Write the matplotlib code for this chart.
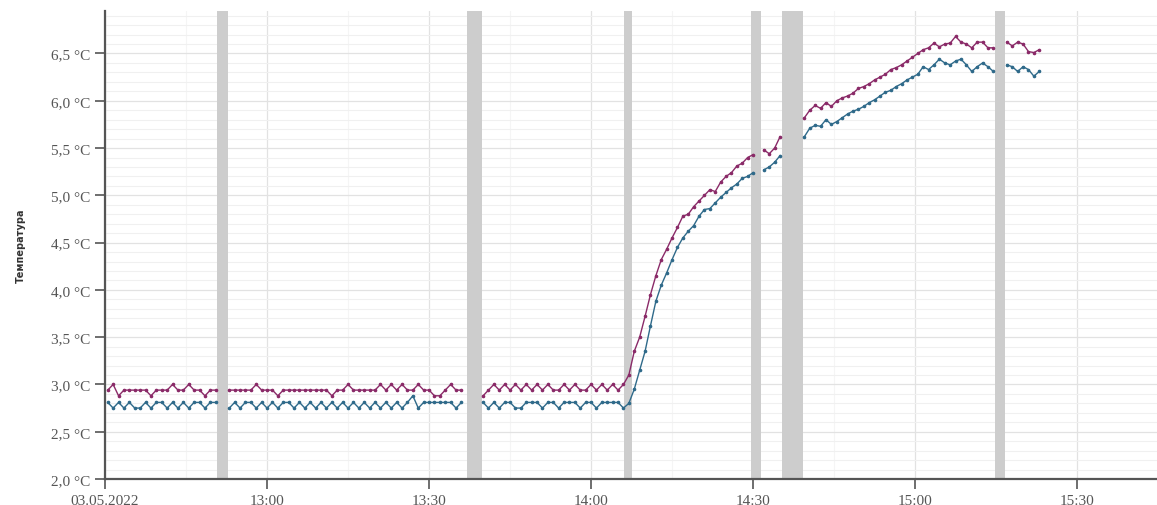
import matplotlib
matplotlib.use("Agg")
import matplotlib.pyplot as plt
import numpy as np
import pandas as pd

# sensor log, 03.05.2022, one reading per minute; segments separated by gaps
# start = minutes after 12:30
seg_start = [0.5, 23.0, 70.0, 122.0, 129.5, 167.0]

upper = [
    [2.94, 3.0, 2.88, 2.94, 2.94, 2.94, 2.94, 2.94, 2.88, 2.94, 2.94,
     2.94, 3.0, 2.94, 2.94, 3.0, 2.94, 2.94, 2.88, 2.94, 2.94],
    [2.94, 2.94, 2.94, 2.94, 2.94, 3.0, 2.94, 2.94, 2.94, 2.88, 2.94,
     2.94, 2.94, 2.94, 2.94, 2.94, 2.94, 2.94, 2.94, 2.88, 2.94, 2.94,
     3.0, 2.94, 2.94, 2.94, 2.94, 2.94, 3.0, 2.94, 3.0, 2.94, 3.0,
     2.94, 2.94, 3.0, 2.94, 2.94, 2.88, 2.88, 2.94, 3.0, 2.94, 2.94],
    [2.88, 2.94, 3.0, 2.94, 3.0, 2.94, 3.0, 2.94, 3.0, 2.94, 3.0,
     2.94, 3.0, 2.94, 2.94, 3.0, 2.94, 3.0, 2.94, 2.94, 3.0, 2.94,
     3.0, 2.94, 3.0, 2.94, 3.0,
     3.10, 3.35, 3.50, 3.72, 3.95, 4.15, 4.32, 4.43, 4.55, 4.66, 4.78,
     4.80, 4.88, 4.94, 5.00, 5.06, 5.04, 5.14, 5.20, 5.24, 5.31, 5.34,
     5.40, 5.43],
    [5.48, 5.44, 5.50, 5.62],
    [5.82, 5.90, 5.95, 5.92, 5.98, 5.94, 6.00, 6.03, 6.05, 6.08, 6.13,
     6.15, 6.18, 6.22, 6.25, 6.28, 6.33, 6.35, 6.38, 6.42, 6.46, 6.50,
     6.54, 6.56, 6.61, 6.57, 6.60, 6.61, 6.68, 6.62, 6.60, 6.56, 6.62,
     6.62, 6.56, 6.56],
    [6.62, 6.58, 6.62, 6.60, 6.52, 6.51, 6.54],
]

lower = [
    [2.81, 2.75, 2.81, 2.75, 2.81, 2.75, 2.75, 2.81, 2.75, 2.81, 2.81,
     2.75, 2.81, 2.75, 2.81, 2.75, 2.81, 2.81, 2.75, 2.81, 2.81],
    [2.75, 2.81, 2.75, 2.81, 2.81, 2.75, 2.81, 2.75, 2.81, 2.75, 2.81,
     2.81, 2.75, 2.81, 2.75, 2.81, 2.75, 2.81, 2.75, 2.81, 2.75, 2.81,
     2.75, 2.81, 2.75, 2.81, 2.75, 2.81, 2.75, 2.81, 2.75, 2.81, 2.75,
     2.81, 2.88, 2.75, 2.81, 2.81, 2.81, 2.81, 2.81, 2.81, 2.75, 2.81],
    [2.81, 2.75, 2.81, 2.75, 2.81, 2.81, 2.75, 2.75, 2.81, 2.81, 2.81,
     2.75, 2.81, 2.81, 2.75, 2.81, 2.81, 2.81, 2.75, 2.81, 2.81, 2.75,
     2.81, 2.81, 2.81, 2.81, 2.75,
     2.80, 2.95, 3.15, 3.35, 3.62, 3.88, 4.05, 4.18, 4.32, 4.45, 4.55,
     4.62, 4.68, 4.78, 4.85, 4.86, 4.92, 4.98, 5.03, 5.08, 5.12, 5.18,
     5.20, 5.24],
    [5.27, 5.30, 5.35, 5.42],
    [5.62, 5.71, 5.74, 5.73, 5.80, 5.75, 5.78, 5.82, 5.86, 5.89, 5.91,
     5.94, 5.98, 6.01, 6.05, 6.09, 6.11, 6.15, 6.18, 6.22, 6.25, 6.28,
     6.36, 6.33, 6.38, 6.44, 6.40, 6.38, 6.42, 6.44, 6.38, 6.31, 6.36,
     6.40, 6.36, 6.31],
    [6.38, 6.36, 6.31, 6.36, 6.33, 6.26, 6.31],
]

# gray bands (minutes after 12:30)
band_from = [20.7, 67.0, 96.1, 119.6, 125.4, 164.8]
band_to = [22.8, 69.8, 97.6, 121.5, 129.3, 166.7]

tick_labels = ["03.05.2022", "13:00", "13:30", "14:00", "14:30", "15:00", "15:30"]
y_ticks = [2.0, 2.5, 3.0, 3.5, 4.0, 4.5, 5.0, 5.5, 6.0, 6.5]

base = pd.Timestamp("2022-05-03 12:30")


def t(minutes):
    return base + pd.to_timedelta(minutes, unit="min")


def build(series):
    xs, ys = [], []
    for start, vals in zip(seg_start, series):
        mins = start + np.arange(len(vals))
        xs.extend(list(t(mins)))
        ys.extend(vals)
        xs.append(t(mins[-1] + 0.5))
        ys.append(np.nan)
    return xs, ys


fig = plt.figure(figsize=(11.57, 5.06), dpi=100)
ax = fig.add_axes([0.0908, 0.0514, 0.9092, 0.925])

for a, b in zip(band_from, band_to):
    ax.axvspan(t(a), t(b), color="#cdcdcd", lw=0, zorder=1)

ux, uy = build(upper)
lx, ly = build(lower)
ax.plot(ux, uy, color="#8a2a68", lw=1.0, marker="o", ms=1.6, zorder=3)
ax.plot(lx, ly, color="#2f6a8a", lw=1.0, marker="o", ms=1.6, zorder=3)

ax.set_xlim(t(0), t(194.8))
ax.set_ylim(2.0, 6.95)

xt = [t(m) for m in range(0, 181, 30)]
ax.set_xticks(xt)
ax.set_xticklabels(tick_labels)
ax.set_xticks([t(m) for m in range(15, 195, 15)], minor=True)

ax.set_yticks(y_ticks)
ax.set_yticklabels([f"{v:.1f}".replace(".", ",") + " °C" for v in y_ticks])
ax.set_yticks(np.arange(2.0, 6.95, 0.1), minor=True)

ax.grid(True, which="major", axis="both", color="#e2e2e2", lw=0.9, zorder=0)
ax.grid(True, which="minor", axis="y", color="#f0f0f0", lw=0.8, zorder=0)
ax.grid(True, which="minor", axis="x", color="#f5f5f5", lw=0.8, zorder=0)
ax.set_axisbelow(True)

for s in ["top", "right"]:
    ax.spines[s].set_visible(False)
for s in ["left", "bottom"]:
    ax.spines[s].set_color("#555555")
    ax.spines[s].set_linewidth(1.6)

ax.tick_params(axis="both", which="major", length=7, width=1.2, color="#555555",
               labelcolor="#555555", labelsize=11)
ax.tick_params(axis="both", which="minor", length=0)
for lab in ax.get_xticklabels() + ax.get_yticklabels():
    lab.set_fontfamily("Liberation Serif")

ax.set_ylabel("Температура", fontsize=7, fontweight="bold", color="#333333",
              labelpad=18)

fig.savefig("out.png", dpi=100)
